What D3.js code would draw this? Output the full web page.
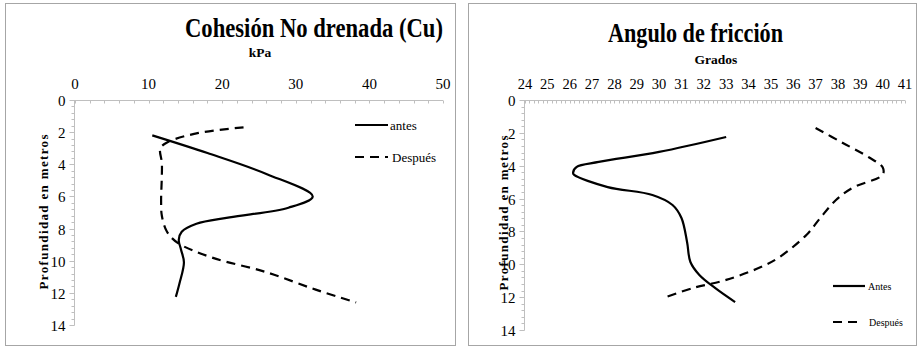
<!DOCTYPE html>
<html>
<head>
<meta charset="utf-8">
<script src="https://cdn.jsdelivr.net/npm/d3@7"></script>
<style>
  html, body { margin: 0; padding: 0; background: #fff; }
  svg { display: block; font-family: "Liberation Serif", "Times New Roman", serif; }
</style>
</head>
<body>
<svg id="chart" width="921" height="349"></svg>
<script>
// --- data ---
// Cohesión no drenada: kPa vs depth (m)
const cuAntesKpa   = [10.5, 18, 26, 32.3, 29, 21, 16.5, 14.5, 14.1, 14.4, 14.8, 14.2, 13.7];
const cuAntesDepth = [2.2, 3.3, 4.6, 6.0, 6.7, 7.3, 7.7, 8.2, 8.7, 9.3, 10.1, 11.4, 12.25];
const cuDespKpa    = [22.9, 16.8, 12.7, 11.6, 11.8, 11.8, 11.7, 11.8, 12.5, 14, 18.6, 25.9, 32.7, 38.2];
const cuDespDepth  = [1.7, 2.05, 2.6, 3.0, 3.9, 4.7, 6.3, 7.2, 8.2, 8.9, 9.8, 10.7, 11.8, 12.6];

// Angulo de fricción: grados vs depth (m)
const phiAntesDeg   = [33.0, 30.0, 27.3, 26.3, 26.15, 26.2, 27.7, 29.7, 30.6, 31.0, 31.25, 31.4, 31.8, 32.5, 33.4];
const phiAntesDepth = [2.25, 3.16, 3.77, 4.08, 4.44, 4.56, 5.3, 5.78, 6.39, 7.18, 8.64, 9.86, 10.65, 11.44, 12.3];
const phiDespDeg    = [37.0, 38.2, 39.4, 40.0, 40.0, 38.65, 37.9, 37.2, 36.6, 35.4, 34.5, 33.0, 31.5, 30.3];
const phiDespDepth  = [1.7, 2.6, 3.5, 4.1, 4.55, 5.35, 6.1, 7.2, 8.2, 9.55, 10.2, 10.95, 11.45, 12.0];

const cuTicks  = [0, 10, 20, 30, 40, 50];
const phiTicks = d3.range(24, 42, 1);
const depthTicks = [0, 2, 4, 6, 8, 10, 12, 14];

const svg = d3.select('#chart');
const AXIS = '#bfbfbf';

function zip(xs, ys) { return xs.map((x, i) => ({ x, y: ys[i] })); }

function drawPanel(p) {
  const g = svg.append('g');

  // frame
  g.append('rect')
    .attr('x', p.frame[0] + 0.5).attr('y', p.frame[1] + 0.5)
    .attr('width', p.frame[2]).attr('height', p.frame[3])
    .attr('fill', '#fff').attr('stroke', '#a6a6a6').attr('stroke-width', 1);

  const x = d3.scaleLinear().domain(p.xDomain).range([p.x0, p.x1]);
  const y = d3.scaleLinear().domain([0, 14]).range([p.y0, p.y1]);

  // top x axis: minor ticks pointing into the plot
  const xa = g.append('g').attr('transform', `translate(0,${p.y0 + 0.5})`);
  xa.append('line').attr('x1', p.x0).attr('x2', p.x1).attr('stroke', AXIS);
  xa.selectAll('line.mt').data(d3.range(p.xDomain[0], p.xDomain[1] + 1e-9, p.xMinor))
    .enter().append('line').attr('class', 'mt')
    .attr('x1', d => Math.round(x(d)) + 0.5).attr('x2', d => Math.round(x(d)) + 0.5)
    .attr('y1', 0).attr('y2', 3).attr('stroke', AXIS);
  xa.selectAll('text').data(p.xTicks).enter().append('text')
    .attr('x', d => x(d)).attr('y', p.tickLabelY - p.y0)
    .attr('text-anchor', 'middle').attr('font-size', p.tickSize)
    .text(d => d);

  // left y axis: ticks pointing out
  const ya = g.append('g').attr('transform', `translate(${p.x0 - 0.5},0)`);
  ya.append('line').attr('y1', p.y0).attr('y2', p.y1).attr('stroke', AXIS);
  ya.selectAll('line.mt').data(d3.range(0, 14 + 1e-9, 0.4))
    .enter().append('line').attr('class', 'mt')
    .attr('y1', d => Math.round(y(d)) + 0.5).attr('y2', d => Math.round(y(d)) + 0.5)
    .attr('x1', -3).attr('x2', 0).attr('stroke', AXIS);
  ya.selectAll('line.Mt').data(depthTicks)
    .enter().append('line').attr('class', 'Mt')
    .attr('y1', d => Math.round(y(d)) + 0.5).attr('y2', d => Math.round(y(d)) + 0.5)
    .attr('x1', -5).attr('x2', 0).attr('stroke', AXIS);
  ya.selectAll('text').data(depthTicks).enter().append('text')
    .attr('x', -9).attr('y', d => y(d) + 6)
    .attr('text-anchor', 'end').attr('font-size', 15)
    .text(d => d);

  // titles
  g.append('text')
    .attr('x', p.title.x).attr('y', p.title.y)
    .attr('font-size', 28).attr('font-weight', 'bold')
    .attr('textLength', p.title.w).attr('lengthAdjust', 'spacingAndGlyphs')
    .text(p.title.text);
  g.append('text')
    .attr('x', p.unit.x).attr('y', p.unit.y)
    .attr('text-anchor', 'middle').attr('font-size', 13.5).attr('font-weight', 'bold')
    .text(p.unit.text);
  g.append('text')
    .attr('transform', `translate(${p.yLabel.x},${p.yLabel.y}) rotate(-90)`)
    .attr('text-anchor', 'middle').attr('font-size', 13).attr('font-weight', 'bold')
    .attr('textLength', 155).attr('lengthAdjust', 'spacing')
    .text('Profundidad en metros');

  // series
  const line = d3.line().x(d => x(d.x)).y(d => y(d.y)).curve(d3.curveCatmullRom.alpha(0.5));
  p.series.forEach(s => {
    g.append('path')
      .attr('d', line(zip(s.xs, s.ys)))
      .attr('fill', 'none').attr('stroke', '#000').attr('stroke-width', 2.2)
      .attr('stroke-dasharray', s.dash ? '9,6' : null);
  });

  // legend
  p.legend.forEach((l, i) => {
    const s = p.series[i];
    g.append('line')
      .attr('x1', l.x).attr('x2', l.x + l.len).attr('y1', l.y).attr('y2', l.y)
      .attr('stroke', '#000').attr('stroke-width', 2.2)
      .attr('stroke-dasharray', s.dash ? '9,6' : null);
    g.append('text')
      .attr('x', l.x + l.len + l.gap).attr('y', l.y + l.dy)
      .attr('font-size', l.size).text(s.name);
  });
}

drawPanel({
  frame: [5, 3, 450, 342],
  xDomain: [0, 50], xMinor: 2, xTicks: cuTicks,
  x0: 75, x1: 443, y0: 100, y1: 325,
  tickLabelY: 88, tickSize: 15,
  title: { text: 'Cohesión No drenada (Cu)', x: 185, y: 37, w: 258 },
  unit: { text: 'kPa', x: 260, y: 57 },
  yLabel: { x: 48, y: 212 },
  series: [
    { name: 'antes', xs: cuAntesKpa, ys: cuAntesDepth, dash: false },
    { name: 'Después', xs: cuDespKpa, ys: cuDespDepth, dash: true }
  ],
  legend: [
    { x: 355, y: 125, len: 33, gap: 2, dy: 5, size: 13 },
    { x: 355, y: 157, len: 33, gap: 4, dy: 5, size: 13 }
  ]
});

drawPanel({
  frame: [468, 3, 448, 342],
  xDomain: [24, 41], xMinor: 0.2, xTicks: phiTicks,
  x0: 525, x1: 905, y0: 100, y1: 330,
  tickLabelY: 88, tickSize: 14.5,
  title: { text: 'Angulo de fricción', x: 608, y: 42, w: 175 },
  unit: { text: 'Grados', x: 716, y: 64 },
  yLabel: { x: 508, y: 213 },
  series: [
    { name: 'Antes', xs: phiAntesDeg, ys: phiAntesDepth, dash: false },
    { name: 'Después', xs: phiDespDeg, ys: phiDespDepth, dash: true }
  ],
  legend: [
    { x: 833, y: 286, len: 32, gap: 3, dy: 4, size: 10 },
    { x: 833, y: 322, len: 30, gap: 6, dy: 4, size: 10 }
  ]
});
</script>
</body>
</html>
